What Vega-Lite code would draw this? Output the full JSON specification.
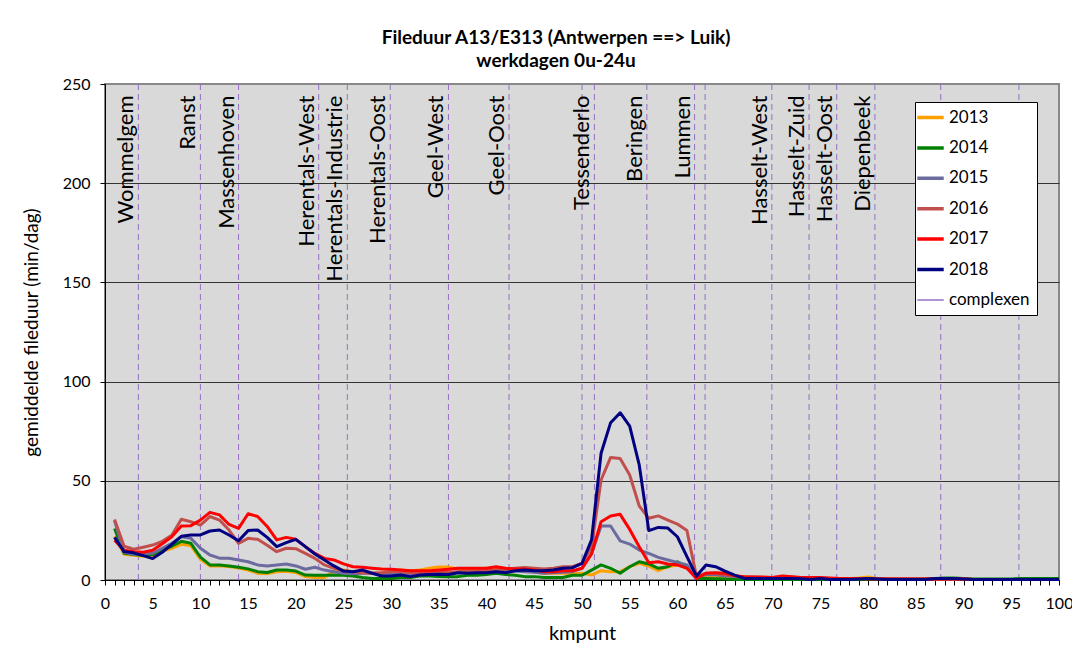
{
  "$schema": "https://vega.github.io/schema/vega-lite/v6.json",
  "width": 954,
  "height": 496,
  "autosize": {"type": "none"},
  "padding": {"left": 105, "top": 84, "right": 13, "bottom": 79},
  "background": "white",
  "title": {
    "text": ["Fileduur A13/E313 (Antwerpen ==> Luik)", "werkdagen 0u-24u"],
    "anchor": "middle",
    "dx": -26,
    "offset": 5,
    "font": "Lato",
    "fontSize": 19,
    "fontWeight": "bold",
    "color": "black",
    "lineHeight": 23
  },
  "config": {
    "view": {"fill": "#d9d9d9", "stroke": "#888888", "strokeWidth": 2},
    "axis": {"labelFont": "Lato", "titleFont": "Lato", "labelColor": "black", "titleColor": "black", "titleFontWeight": "normal", "domainColor": "black", "tickColor": "black"}
  },
  "encoding": {
    "x": {
      "field": "km", "type": "quantitative",
      "scale": {"domain": [0, 100], "nice": false, "zero": false},
      "axis": {
        "title": "kmpunt", "titleFontSize": 20, "titlePadding": 12,
        "values": [0,1,2,3,4,5,6,7,8,9,10,11,12,13,14,15,16,17,18,19,20,21,22,23,24,25,26,27,28,29,30,31,32,33,34,35,36,37,38,39,40,41,42,43,44,45,46,47,48,49,50,51,52,53,54,55,56,57,58,59,60,61,62,63,64,65,66,67,68,69,70,71,72,73,74,75,76,77,78,79,80,81,82,83,84,85,86,87,88,89,90,91,92,93,94,95,96,97,98,99,100],
        "labelExpr": "datum.value % 5 === 0 ? datum.label : ''",
        "labelFontSize": 16, "labelPadding": 10, "tickSize": 5, "grid": false, "labelFlush": false, "labelOverlap": false
      }
    }
  },
  "layer": [
    {
      "data": {"values": [
        {"km": 3.5, "naam": "Wommelgem"},
        {"km": 10, "naam": "Ranst"},
        {"km": 14, "naam": "Massenhoven"},
        {"km": 22.4, "naam": "Herentals-West"},
        {"km": 25.4, "naam": "Herentals-Industrie"},
        {"km": 29.9, "naam": "Herentals-Oost"},
        {"km": 36, "naam": "Geel-West"},
        {"km": 42.35, "naam": "Geel-Oost"},
        {"km": 50, "naam": ""},
        {"km": 51.3, "naam": "Tessenderlo"},
        {"km": 56.8, "naam": "Beringen"},
        {"km": 61.8, "naam": "Lummen"},
        {"km": 62.9, "naam": ""},
        {"km": 69.9, "naam": "Hasselt-West"},
        {"km": 73.8, "naam": "Hasselt-Zuid"},
        {"km": 76.7, "naam": "Hasselt-Oost"},
        {"km": 80.7, "naam": "Diepenbeek"},
        {"km": 87.6, "naam": ""},
        {"km": 95.8, "naam": ""}
      ]},
      "layer": [
        {
          "mark": {"type": "rule", "strokeDash": [6, 4], "strokeWidth": 1},
          "encoding": {
            "color": {"datum": "complexen", "type": "nominal"}
          }
        },
        {
          "transform": [{"filter": "datum.naam !== ''"}],
          "mark": {"type": "text", "angle": -90, "align": "right", "baseline": "bottom", "font": "Lato", "fontSize": 22, "color": "black"},
          "encoding": {
            "y": {"datum": 244.2, "type": "quantitative"},
            "text": {"field": "naam"}
          }
        }
      ]
    },
    {
      "data": {"values": [
        {"km":1,"2013":22,"2014":26,"2015":30,"2016":30.5,"2017":20,"2018":21.5},
        {"km":2,"2013":13,"2014":13.5,"2015":14,"2016":17,"2017":15,"2018":14.3},
        {"km":3,"2013":12.5,"2014":12.8,"2015":13,"2016":15.5,"2017":14.3,"2018":13.7},
        {"km":4,"2013":12,"2014":12.5,"2015":13.4,"2016":16.5,"2017":14,"2018":12.3},
        {"km":5,"2013":12,"2014":12.8,"2015":13.5,"2016":17.6,"2017":15,"2018":10.8},
        {"km":6,"2013":14.5,"2014":15,"2015":16,"2016":19.5,"2017":18.3,"2018":14},
        {"km":7,"2013":16,"2014":17,"2015":18.5,"2016":22.6,"2017":21.8,"2018":18},
        {"km":8,"2013":18,"2014":19.5,"2015":21.8,"2016":30.6,"2017":27.2,"2018":22},
        {"km":9,"2013":17.3,"2014":18.5,"2015":21,"2016":29.4,"2017":27.4,"2018":22.7},
        {"km":10,"2013":10.5,"2014":11.5,"2015":16,"2016":27.7,"2017":30.2,"2018":22.7},
        {"km":11,"2013":7.1,"2014":7.6,"2015":12.6,"2016":32,"2017":34.1,"2018":24.7},
        {"km":12,"2013":7.2,"2014":7.6,"2015":11,"2016":30.2,"2017":32.8,"2018":25.2},
        {"km":13,"2013":6.8,"2014":7.1,"2015":11,"2016":25.2,"2017":28,"2018":22.7},
        {"km":14,"2013":6,"2014":6.4,"2015":10.1,"2016":18.5,"2017":26,"2018":19.8},
        {"km":15,"2013":5,"2014":5.6,"2015":9.2,"2016":21,"2017":33.4,"2018":24.9},
        {"km":16,"2013":3.4,"2014":4.2,"2015":7.6,"2016":20.5,"2017":32,"2018":25.2},
        {"km":17,"2013":3.2,"2014":3.8,"2015":7.1,"2016":17.5,"2017":27,"2018":21.5},
        {"km":18,"2013":4.2,"2014":5,"2015":7.6,"2016":14.3,"2017":20.2,"2018":16.8},
        {"km":19,"2013":4.4,"2014":5,"2015":8.1,"2016":16,"2017":21.5,"2018":18.8},
        {"km":20,"2013":3.8,"2014":4.5,"2015":7.1,"2016":15.8,"2017":20.5,"2018":20.5},
        {"km":21,"2013":1.7,"2014":2.5,"2015":5.4,"2016":13.4,"2017":16.8,"2018":16.8},
        {"km":22,"2013":1.3,"2014":2.4,"2015":6.4,"2016":10.9,"2017":13.4,"2018":13.1},
        {"km":23,"2013":1.3,"2014":2.4,"2015":5,"2016":7.6,"2017":10.9,"2018":10.1},
        {"km":24,"2013":4.5,"2014":2.5,"2015":4.2,"2016":5.9,"2017":10.1,"2018":7.1},
        {"km":25,"2013":5,"2014":2.4,"2015":3.4,"2016":4.7,"2017":8.1,"2018":4.5},
        {"km":26,"2013":4.2,"2014":2,"2015":3.1,"2016":4.2,"2017":6.7,"2018":4.2},
        {"km":27,"2013":3.7,"2014":1.3,"2015":3.4,"2016":3.7,"2017":6.4,"2018":5},
        {"km":28,"2013":3.4,"2014":0.8,"2015":3.4,"2016":3.4,"2017":5.9,"2018":3.4},
        {"km":29,"2013":3.4,"2014":0.8,"2015":3.4,"2016":3.7,"2017":5.5,"2018":2},
        {"km":30,"2013":4.5,"2014":0.8,"2015":3.4,"2016":4.2,"2017":5.4,"2018":2},
        {"km":31,"2013":5,"2014":1.3,"2015":3.1,"2016":4.2,"2017":5,"2018":2.5},
        {"km":32,"2013":4.7,"2014":1.3,"2015":3.1,"2016":3.7,"2017":4.7,"2018":1.7},
        {"km":33,"2013":5,"2014":2,"2015":3.4,"2016":3.4,"2017":4.7,"2018":2.5},
        {"km":34,"2013":5.9,"2014":2,"2015":3.4,"2016":4.2,"2017":4.7,"2018":2.8},
        {"km":35,"2013":6.6,"2014":1.8,"2015":3.6,"2016":4,"2017":5,"2018":2.9},
        {"km":36,"2013":6.6,"2014":1.7,"2015":3.7,"2016":3.9,"2017":5.4,"2018":2.8},
        {"km":37,"2013":5.5,"2014":1.7,"2015":3.7,"2016":4.2,"2017":5.9,"2018":3.7},
        {"km":38,"2013":5.5,"2014":2.4,"2015":4,"2016":4.5,"2017":5.9,"2018":3.4},
        {"km":39,"2013":5.5,"2014":2.4,"2015":4,"2016":4.7,"2017":5.9,"2018":3.7},
        {"km":40,"2013":5.9,"2014":2.8,"2015":4.2,"2016":4.7,"2017":5.9,"2018":3.7},
        {"km":41,"2013":6.2,"2014":3.4,"2015":4.4,"2016":5.2,"2017":6.7,"2018":4.2},
        {"km":42,"2013":5.5,"2014":2.8,"2015":4.5,"2016":5.5,"2017":5.9,"2018":3.7},
        {"km":43,"2013":5,"2014":2.4,"2015":4.5,"2016":5.9,"2017":5.5,"2018":4.7},
        {"km":44,"2013":4.5,"2014":1.7,"2015":4.2,"2016":6.3,"2017":5.5,"2018":5},
        {"km":45,"2013":4,"2014":1.7,"2015":3.9,"2016":5.9,"2017":5,"2018":4.7},
        {"km":46,"2013":3.4,"2014":1.3,"2015":3.4,"2016":5.5,"2017":4.2,"2018":4.7},
        {"km":47,"2013":3.4,"2014":1.3,"2015":3.7,"2016":5.9,"2017":4.2,"2018":5},
        {"km":48,"2013":3.4,"2014":1.3,"2015":3.9,"2016":6.7,"2017":4.7,"2018":5.9},
        {"km":49,"2013":3.2,"2014":2.4,"2015":4.2,"2016":6.7,"2017":4.7,"2018":6.2},
        {"km":50,"2013":3.4,"2014":2.4,"2015":5.9,"2016":8.4,"2017":5.9,"2018":8.4},
        {"km":51,"2013":2.5,"2014":5,"2015":13.4,"2016":16.8,"2017":13.1,"2018":20.2},
        {"km":52,"2013":4.7,"2014":7.6,"2015":27.2,"2016":50.4,"2017":29.4,"2018":63.9},
        {"km":53,"2013":4.2,"2014":5.9,"2015":27.2,"2016":61.8,"2017":32.3,"2018":79.3},
        {"km":54,"2013":4.2,"2014":3.4,"2015":19.7,"2016":61.2,"2017":33.1,"2018":84.3},
        {"km":55,"2013":6.7,"2014":6.7,"2015":18.1,"2016":52.9,"2017":25.5,"2018":77.6},
        {"km":56,"2013":8.4,"2014":9.2,"2015":15.1,"2016":37.3,"2017":16.8,"2018":58},
        {"km":57,"2013":7,"2014":8.1,"2015":13.4,"2016":31.1,"2017":8.7,"2018":24.9},
        {"km":58,"2013":4.7,"2014":5.9,"2015":11.4,"2016":32.3,"2017":9.2,"2018":26.5},
        {"km":59,"2013":6.7,"2014":6.7,"2015":10.1,"2016":30.2,"2017":8.1,"2018":26.2},
        {"km":60,"2013":7.6,"2014":9.2,"2015":8.9,"2016":28.2,"2017":7.6,"2018":21.8},
        {"km":61,"2013":6.7,"2014":6.7,"2015":7.6,"2016":24.9,"2017":5.9,"2018":11.8},
        {"km":62,"2013":0.8,"2014":0.8,"2015":1.7,"2016":1.7,"2017":0.8,"2018":2},
        {"km":63,"2013":1.5,"2014":0.8,"2015":2.6,"2016":3.4,"2017":3.4,"2018":7.6},
        {"km":64,"2013":1.5,"2014":0.6,"2015":2.6,"2016":3.4,"2017":3.6,"2018":6.7},
        {"km":65,"2013":2,"2014":0.5,"2015":2,"2016":2.6,"2017":3.4,"2018":4.5},
        {"km":66,"2013":1.7,"2014":0.2,"2015":1.7,"2016":2,"2017":2.2,"2018":2.5},
        {"km":67,"2013":1.5,"2014":0.2,"2015":1.3,"2016":1.5,"2017":1.7,"2018":0.8},
        {"km":68,"2013":1.3,"2014":0.2,"2015":1.2,"2016":1.5,"2017":1.5,"2018":0.8},
        {"km":69,"2013":1.3,"2014":0.3,"2015":1.2,"2016":1.3,"2017":1.5,"2018":0.8},
        {"km":70,"2013":1.3,"2014":0.3,"2015":1.2,"2016":1.3,"2017":1.3,"2018":0.8},
        {"km":71,"2013":1.2,"2014":0.3,"2015":1,"2016":1.7,"2017":2,"2018":0.8},
        {"km":72,"2013":1,"2014":0.3,"2015":1,"2016":1.5,"2017":1.7,"2018":0.8},
        {"km":73,"2013":0.8,"2014":0.3,"2015":0.8,"2016":1,"2017":1.3,"2018":0.6},
        {"km":74,"2013":0.8,"2014":0.3,"2015":0.8,"2016":0.8,"2017":1.2,"2018":0.3},
        {"km":75,"2013":0.8,"2014":0.3,"2015":0.8,"2016":0.8,"2017":1.2,"2018":0.8},
        {"km":76,"2013":0.8,"2014":0.3,"2015":0.8,"2016":0.8,"2017":1,"2018":0.3},
        {"km":77,"2013":0.8,"2014":0.3,"2015":0.8,"2016":0.8,"2017":0.8,"2018":0.3},
        {"km":78,"2013":0.8,"2014":0.3,"2015":0.8,"2016":0.8,"2017":0.8,"2018":0.3},
        {"km":79,"2013":1,"2014":0.3,"2015":0.8,"2016":0.8,"2017":0.8,"2018":0.5},
        {"km":80,"2013":1.5,"2014":0.3,"2015":0.8,"2016":0.8,"2017":0.5,"2018":0.8},
        {"km":81,"2013":0.8,"2014":0.3,"2015":0.8,"2016":0.8,"2017":0.5,"2018":0.5},
        {"km":82,"2013":0.5,"2014":0.3,"2015":0.5,"2016":0.8,"2017":0.5,"2018":0.3},
        {"km":83,"2013":0.5,"2014":0.3,"2015":0.5,"2016":0.5,"2017":0.5,"2018":0.3},
        {"km":84,"2013":0.5,"2014":0.3,"2015":0.5,"2016":0.5,"2017":0.5,"2018":0.3},
        {"km":85,"2013":0.5,"2014":0.3,"2015":0.5,"2016":0.5,"2017":0.5,"2018":0.3},
        {"km":86,"2013":0.5,"2014":0.5,"2015":0.5,"2016":0.5,"2017":0.5,"2018":0.3},
        {"km":87,"2013":0.5,"2014":0.8,"2015":0.5,"2016":0.5,"2017":0.5,"2018":0.8},
        {"km":88,"2013":0.5,"2014":1,"2015":0.5,"2016":0.5,"2017":0.5,"2018":0.8},
        {"km":89,"2013":0.5,"2014":1,"2015":0.5,"2016":0.5,"2017":0.5,"2018":0.8},
        {"km":90,"2013":0.5,"2014":0.8,"2015":0.5,"2016":0.5,"2017":0.5,"2018":0.5},
        {"km":91,"2013":0.3,"2014":0.5,"2015":0.3,"2016":0.3,"2017":0.3,"2018":0.3},
        {"km":92,"2013":0.3,"2014":0.5,"2015":0.3,"2016":0.3,"2017":0.3,"2018":0.3},
        {"km":93,"2013":0.3,"2014":0.5,"2015":0.3,"2016":0.3,"2017":0.3,"2018":0.3},
        {"km":94,"2013":0.3,"2014":0.5,"2015":0.3,"2016":0.3,"2017":0.3,"2018":0.3},
        {"km":95,"2013":0.3,"2014":0.5,"2015":0.3,"2016":0.3,"2017":0.3,"2018":0.3},
        {"km":96,"2013":0.3,"2014":0.8,"2015":0.3,"2016":0.3,"2017":0.3,"2018":0.3},
        {"km":97,"2013":0.3,"2014":0.8,"2015":0.3,"2016":0.3,"2017":0.2,"2018":0.2},
        {"km":98,"2013":0.3,"2014":0.8,"2015":0.3,"2016":0.3,"2017":0.2,"2018":0.2},
        {"km":99,"2013":0.3,"2014":0.8,"2015":0.3,"2016":0.3,"2017":0.2,"2018":0.2},
        {"km":100,"2013":0.3,"2014":0.8,"2015":0.3,"2016":0.3,"2017":0.2,"2018":0.2}
      ]},
      "transform": [{"fold": ["2013", "2014", "2015", "2016", "2017", "2018"], "as": ["jaar", "v"]}],
      "mark": {"type": "line", "strokeWidth": 3, "strokeJoin": "round"},
      "encoding": {
        "y": {
          "field": "v", "type": "quantitative",
          "scale": {"domain": [0, 250], "nice": false},
          "axis": {
            "title": "gemiddelde fileduur  (min/dag)", "titleFontSize": 19, "titlePadding": 21,
            "values": [0, 50, 100, 150, 200, 250],
            "labelFontSize": 16, "labelPadding": 10, "tickSize": 5,
            "grid": true,
            "gridColor": {"condition": {"test": "datum.value === 250", "value": "#888888"}, "value": "#333333"},
            "gridOpacity": 1
          }
        },
        "color": {
          "field": "jaar", "type": "nominal",
          "scale": {
            "domain": ["2013", "2014", "2015", "2016", "2017", "2018", "complexen"],
            "range": ["#ffa000", "#008000", "#6b6b9f", "#c0504d", "#ff0000", "#000080", "#9470c4"]
          },
          "legend": {
            "title": null,
            "orient": "none",
            "legendX": 810,
            "legendY": 18,
            "fillColor": "white",
            "strokeColor": "black",
            "padding": 7,
            "symbolType": "stroke",
            "symbolSize": 700,
            "symbolStrokeWidth": 3.5,
            "rowPadding": 12.4,
            "labelFont": "Lato",
            "labelFontSize": 17,
            "labelColor": "black",
            "labelOffset": 10,
            "encode": {
              "symbols": {
                "update": {
                  "strokeWidth": {"signal": "datum.value === 'complexen' ? 1.5 : 3.5"},
                  "strokeDash": {"value": [1, 0]}
                }
              }
            }
          }
        }
      }
    }
  ]
}
